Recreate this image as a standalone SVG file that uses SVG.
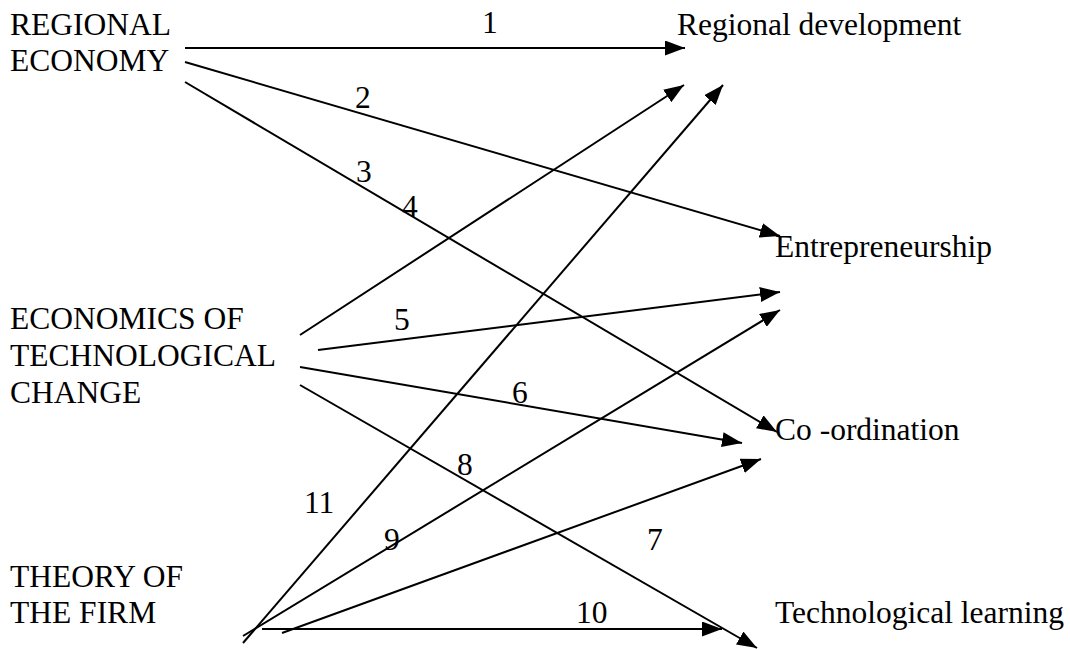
<svg xmlns="http://www.w3.org/2000/svg" width="1070" height="649" viewBox="0 0 1070 649">
<defs>
<style>
.t{font-family:'Liberation Serif','Times New Roman',serif;font-size:31.5px;fill:#000}
#connectors line{stroke:#000;stroke-width:2;marker-end:url(#ah)}
</style>
<marker id="ah" markerUnits="userSpaceOnUse" markerWidth="21" markerHeight="15" refX="20" refY="7.5" orient="auto">
<path d="M0,0 L20,7.5 L0,15 Z" fill="#000"/>
</marker>
</defs>
<rect width="1070" height="649" fill="#fff"/>
<g class="t">
<g id="node-regional-economy"><text x="10" y="35">REGIONAL</text><text x="10" y="71">ECONOMY</text></g>
<g id="node-econ-tech-change"><text x="10" y="329">ECONOMICS OF</text><text x="10" y="366">TECHNOLOGICAL</text><text x="10" y="403">CHANGE</text></g>
<g id="node-theory-firm"><text x="10" y="587">THEORY OF</text><text x="10" y="623">THE FIRM</text></g>
<g id="node-regional-development"><text x="677" y="35">Regional development</text></g>
<g id="node-entrepreneurship"><text x="775" y="257">Entrepreneurship</text></g>
<g id="node-coordination"><text x="775" y="440">Co -ordination</text></g>
<g id="node-technological-learning"><text x="775" y="623">Technological learning</text></g>
<g id="labels">
<text x="482" y="33">1</text>
<text x="355" y="108">2</text>
<text x="356" y="182">3</text>
<text x="402" y="217">4</text>
<text x="394" y="330">5</text>
<text x="512" y="403">6</text>
<text x="457" y="475">8</text>
<text x="647" y="550">7</text>
<text x="304" y="513">11</text>
<text x="384" y="550">9</text>
<text x="576" y="623">10</text>
</g>
</g>
<g id="connectors">
<line x1="185" y1="48" x2="685" y2="48"/>
<line x1="185" y1="62" x2="780" y2="236"/>
<line x1="185" y1="82" x2="777" y2="432"/>
<line x1="300" y1="335" x2="684" y2="85"/>
<line x1="243" y1="643" x2="723" y2="85"/>
<line x1="318" y1="350" x2="780" y2="292"/>
<line x1="243" y1="636" x2="780" y2="310"/>
<line x1="300" y1="367" x2="742" y2="443"/>
<line x1="282" y1="633" x2="761" y2="459"/>
<line x1="262" y1="629" x2="722" y2="629"/>
<line x1="300" y1="385" x2="757" y2="648"/>
</g>
</svg>
